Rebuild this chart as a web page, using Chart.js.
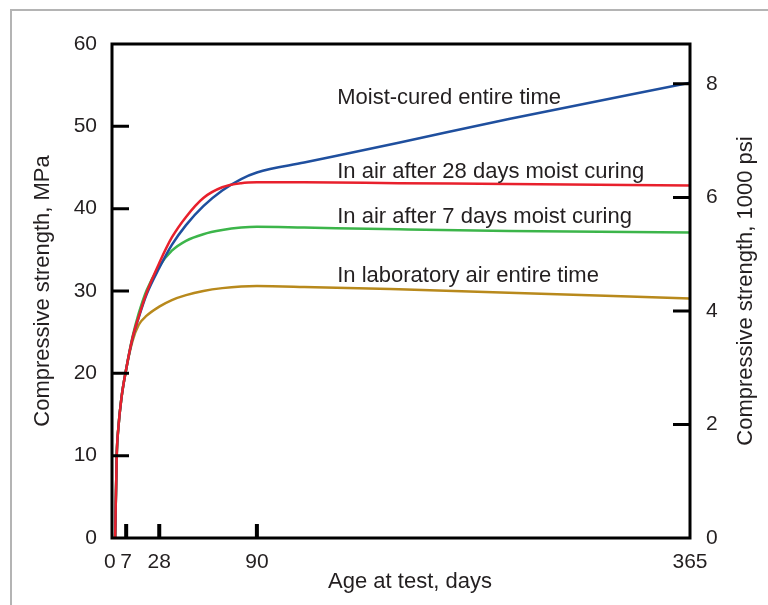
<!DOCTYPE html>
<html>
<head>
<meta charset="utf-8">
<script src="https://cdn.jsdelivr.net/npm/chart.js@4"></script>
<style>
  body { margin: 0; background: #fff; }
  #wrap { width: 768px; height: 605px; }
</style>
</head>
<body>
<div id="wrap"><canvas id="myChart" width="768" height="605"></canvas></div>
<script>
// age at test, days (shared by all four curves)
const days = [0, 1, 2, 4, 7, 11, 15, 20, 28, 36, 45, 56, 68, 80, 90, 120, 180, 250, 365];
// compressive strength, MPa
const moistCured = [0, 10, 13.3, 17, 20.5, 24.2, 26.8, 29.6, 32.8, 35.6, 38.0, 40.3, 42.2, 43.6, 44.4, 45.6, 48.0, 50.9, 55.3];
const air28 = [0, 10, 13.3, 17, 20.5, 24.3, 26.9, 29.8, 33.4, 36.5, 39.0, 41.3, 42.6, 43.1, 43.2, 43.2, 43.1, 43.0, 42.8];
const air7 = [0, 10, 13.3, 17, 20.5, 24.4, 27.3, 30.1, 33.0, 34.9, 36.1, 36.9, 37.4, 37.7, 37.8, 37.7, 37.5, 37.3, 37.1];
const labAir = [0, 10, 13.3, 17, 20.5, 23.9, 25.9, 27.0, 28.1, 28.9, 29.5, 30.0, 30.35, 30.55, 30.6, 30.5, 30.2, 29.8, 29.1];

const seriesNames = ['Moist-cured entire time', 'In air after 28 days moist curing',
  'In air after 7 days moist curing', 'In laboratory air entire time'];

const xTicks = [0, 7, 28, 90, 365];
const mpaTicks = [0, 10, 20, 30, 40, 50, 60];
const psiTicks = [0, 2, 4, 6, 8];
const MPA_TO_KSI = 0.1450377;

const font = "'Liberation Sans', Arial, sans-serif";
const txt = '#231f20';

function pts(vals) { return days.map((d, i) => ({ x: d, y: vals[i] })); }

// where the curve names sit (days, MPa at baseline)
const notes = [
  { text: seriesNames[0], x: 141, y: 52.7 },
  { text: seriesNames[1], x: 141, y: 43.7 },
  { text: seriesNames[2], x: 141, y: 38.2 },
  { text: seriesNames[3], x: 141, y: 31.1 }
];

const decor = {
  id: 'decor',
  beforeDraw(chart) {
    const ctx = chart.ctx;
    ctx.save();
    ctx.strokeStyle = '#b4b4b4';
    ctx.lineWidth = 2;
    ctx.beginPath();
    ctx.moveTo(11, 610); ctx.lineTo(11, 10); ctx.lineTo(775, 10);
    ctx.stroke();
    ctx.restore();
  },
  afterDatasetsDraw(chart) {
    const { ctx, chartArea: a, scales } = chart;
    ctx.save();
    ctx.strokeStyle = '#000';
    ctx.lineWidth = 3;
    ctx.strokeRect(a.left, a.top, a.right - a.left, a.bottom - a.top);
    ctx.beginPath();
    mpaTicks.slice(1, -1).forEach(v => {
      const y = scales.y.getPixelForValue(v);
      ctx.moveTo(a.left, y); ctx.lineTo(a.left + 17, y);
    });
    psiTicks.slice(1).forEach(v => {
      const y = scales.y2.getPixelForValue(v);
      ctx.moveTo(a.right - 17, y); ctx.lineTo(a.right, y);
    });
    ctx.stroke();
    ctx.lineWidth = 4;
    ctx.beginPath();
    xTicks.slice(1, -1).forEach(v => {
      const x = scales.x.getPixelForValue(v);
      ctx.moveTo(x, a.bottom); ctx.lineTo(x, a.bottom - 14);
    });
    ctx.stroke();

    ctx.fillStyle = txt;
    ctx.font = '22px ' + font;
    ctx.textAlign = 'left';
    ctx.textBaseline = 'alphabetic';
    notes.forEach(n => {
      ctx.fillText(n.text, scales.x.getPixelForValue(n.x), scales.y.getPixelForValue(n.y));
    });

    // axis titles
    ctx.textAlign = 'center';
    ctx.textBaseline = 'middle';
    ctx.fillText('Age at test, days', 410, 582);
    const midY = (a.top + a.bottom) / 2;
    ctx.save();
    ctx.translate(43, midY);
    ctx.rotate(-Math.PI / 2);
    ctx.fillText('Compressive strength, MPa', 0, 0);
    ctx.restore();
    ctx.save();
    ctx.translate(746, midY);
    ctx.rotate(-Math.PI / 2);
    ctx.fillText('Compressive strength, 1000 psi', 0, 0);
    ctx.restore();
    ctx.restore();
  }
};

const line = (label, vals, color) => ({
  label: label,
  data: pts(vals),
  borderColor: color,
  borderWidth: 2.5,
  pointRadius: 0,
  cubicInterpolationMode: 'monotone',
  fill: false
});

// first dataset is painted on top
new Chart(document.getElementById('myChart'), {
  type: 'line',
  data: {
    datasets: [
      line(seriesNames[1], air28, '#e8202c'),
      line(seriesNames[0], moistCured, '#1f4f9e'),
      line(seriesNames[2], air7, '#3cb54a'),
      line(seriesNames[3], labAir, '#b8891c')
    ]
  },
  options: {
    responsive: false,
    animation: false,
    layout: { padding: { top: 44, left: 0, right: 0, bottom: 0 } },
    plugins: { legend: { display: false }, tooltip: { enabled: false } },
    scales: {
      x: {
        type: 'linear',
        min: -2,
        max: 365,
        afterFit: s => { s.height = 67; },
        afterBuildTicks: s => { s.ticks = xTicks.map(v => ({ value: v })); },
        grid: { display: false, drawTicks: false },
        border: { display: false },
        ticks: {
          autoSkip: false,
          maxRotation: 0,
          padding: 12,
          color: txt,
          font: { family: font, size: 21 },
          callback: v => v === 0 ? '0\u2002' : String(v)
        }
      },
      y: {
        position: 'left',
        min: 0,
        max: 60,
        afterFit: s => { s.width = 112; },
        afterBuildTicks: s => { s.ticks = mpaTicks.map(v => ({ value: v })); },
        grid: { display: false, drawTicks: false },
        border: { display: false },
        ticks: { padding: 15, color: txt, font: { family: font, size: 21 } }
      },
      y2: {
        position: 'right',
        min: 0,
        max: 60 * MPA_TO_KSI,
        afterFit: s => { s.width = 78; },
        afterBuildTicks: s => { s.ticks = psiTicks.map(v => ({ value: v })); },
        grid: { display: false, drawTicks: false },
        border: { display: false },
        ticks: { padding: 16, color: txt, font: { family: font, size: 21 } }
      }
    }
  },
  plugins: [decor]
});
</script>
</body>
</html>
